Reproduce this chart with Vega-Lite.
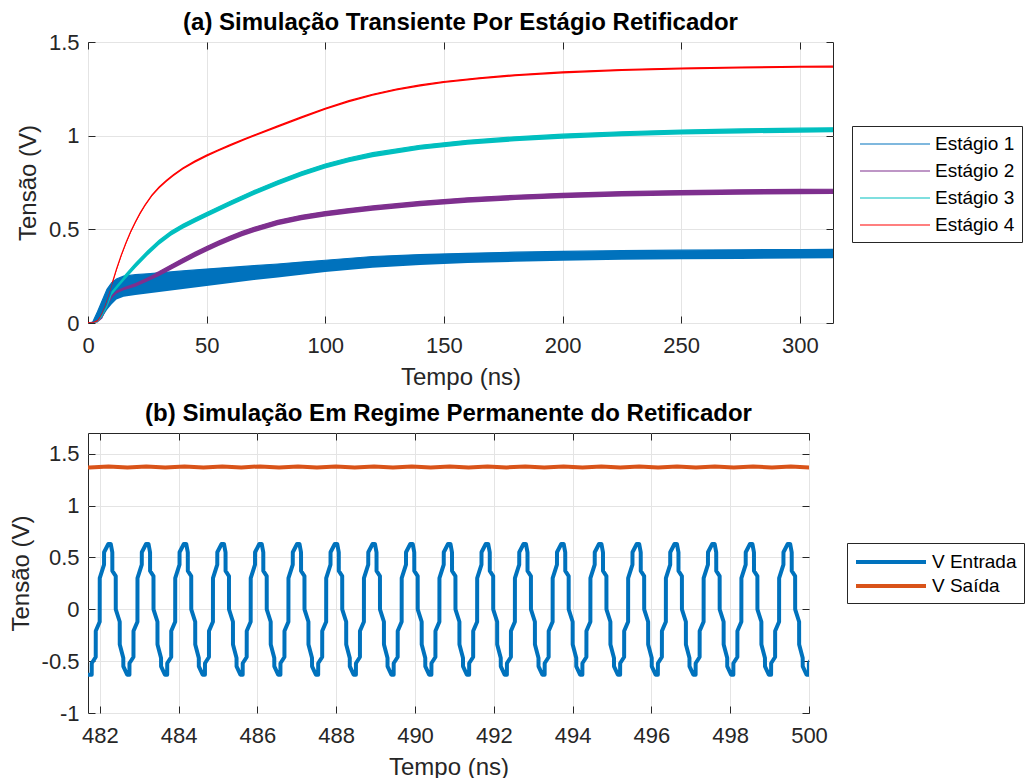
{
"$schema": "https://vega.github.io/schema/vega-lite/v6.json",
"background": "white",
"padding": {"left": 8, "top": 10, "right": 0, "bottom": 0},
"spacing": 11,
"config": {
 "font": "Liberation Sans",
 "view": {"stroke": "#262626", "strokeWidth": 1},
 "title": {"font": "Liberation Sans", "fontSize": 24, "fontWeight": "bold", "color": "#000000", "anchor": "middle", "offset": 7},
 "axis": {"labelFont": "Liberation Sans", "labelFontSize": 22, "labelColor": "#262626", "titleFont": "Liberation Sans", "titleFontSize": 24, "titleFontWeight": "normal", "titleColor": "#262626", "grid": true, "gridColor": "#E4E4E4", "domain": false, "ticks": true, "tickSize": -7, "tickColor": "#262626", "tickWidth": 1, "labelFlush": false},
 "axisX": {"labelPadding": 19, "titlePadding": 9},
 "axisY": {"labelPadding": 16, "titlePadding": 8},
 "legend": {"labelFont": "Liberation Sans", "labelFontSize": 19, "labelColor": "#000000", "symbolType": "M-1,0H6", "symbolSize": 400, "strokeColor": "#262626", "fillColor": "#ffffff", "padding": 7, "labelLimit": 300}
},
"resolve": {"scale": {"color": "independent", "fill": "independent"}, "legend": {"color": "independent"}},
"datasets": {
"stages": [
{"s":"Estágio 1","t":0,"lo":0,"hi":0},{"s":"Estágio 1","t":2,"lo":0,"hi":0.005},{"s":"Estágio 1","t":4,"lo":0.01,"hi":0.06},{"s":"Estágio 1","t":6,"lo":0.03,"hi":0.12},{"s":"Estágio 1","t":8,"lo":0.07,"hi":0.18},{"s":"Estágio 1","t":10,"lo":0.1,"hi":0.215},{"s":"Estágio 1","t":12,"lo":0.125,"hi":0.235},{"s":"Estágio 1","t":15,"lo":0.14,"hi":0.25},{"s":"Estágio 1","t":20,"lo":0.15,"hi":0.258},{"s":"Estágio 1","t":25,"lo":0.158,"hi":0.263},{"s":"Estágio 1","t":30,"lo":0.166,"hi":0.268},{"s":"Estágio 1","t":40,"lo":0.182,"hi":0.278},{"s":"Estágio 1","t":50,"lo":0.198,"hi":0.288},{"s":"Estágio 1","t":60,"lo":0.214,"hi":0.297},{"s":"Estágio 1","t":70,"lo":0.229,"hi":0.306},{"s":"Estágio 1","t":80,"lo":0.243,"hi":0.315},{"s":"Estágio 1","t":90,"lo":0.258,"hi":0.325},{"s":"Estágio 1","t":100,"lo":0.272,"hi":0.335},{"s":"Estágio 1","t":120,"lo":0.295,"hi":0.355},{"s":"Estágio 1","t":140,"lo":0.31,"hi":0.365},{"s":"Estágio 1","t":160,"lo":0.32,"hi":0.372},{"s":"Estágio 1","t":180,"lo":0.327,"hi":0.378},{"s":"Estágio 1","t":200,"lo":0.332,"hi":0.382},{"s":"Estágio 1","t":225,"lo":0.337,"hi":0.386},{"s":"Estágio 1","t":250,"lo":0.34,"hi":0.389},{"s":"Estágio 1","t":275,"lo":0.342,"hi":0.391},{"s":"Estágio 1","t":300,"lo":0.344,"hi":0.392},{"s":"Estágio 1","t":314,"lo":0.345,"hi":0.393},
{"s":"Estágio 2","t":0,"lo":0,"hi":0},{"s":"Estágio 2","t":2,"lo":0,"hi":0.002},{"s":"Estágio 2","t":4,"lo":0.003,"hi":0.013},{"s":"Estágio 2","t":6,"lo":0.024,"hi":0.036},{"s":"Estágio 2","t":8,"lo":0.084,"hi":0.096},{"s":"Estágio 2","t":10,"lo":0.132,"hi":0.148},{"s":"Estágio 2","t":12,"lo":0.157,"hi":0.173},{"s":"Estágio 2","t":15,"lo":0.175,"hi":0.191},{"s":"Estágio 2","t":20,"lo":0.193,"hi":0.213},{"s":"Estágio 2","t":25,"lo":0.221,"hi":0.243},{"s":"Estágio 2","t":30,"lo":0.251,"hi":0.275},{"s":"Estágio 2","t":35,"lo":0.284,"hi":0.31},{"s":"Estágio 2","t":40,"lo":0.318,"hi":0.344},{"s":"Estágio 2","t":45,"lo":0.351,"hi":0.377},{"s":"Estágio 2","t":50,"lo":0.382,"hi":0.408},{"s":"Estágio 2","t":55,"lo":0.411,"hi":0.437},{"s":"Estágio 2","t":60,"lo":0.438,"hi":0.464},{"s":"Estágio 2","t":65,"lo":0.463,"hi":0.489},{"s":"Estágio 2","t":70,"lo":0.485,"hi":0.511},{"s":"Estágio 2","t":80,"lo":0.522,"hi":0.548},{"s":"Estágio 2","t":90,"lo":0.549,"hi":0.575},{"s":"Estágio 2","t":100,"lo":0.569,"hi":0.595},{"s":"Estágio 2","t":110,"lo":0.585,"hi":0.611},{"s":"Estágio 2","t":120,"lo":0.599,"hi":0.625},{"s":"Estágio 2","t":140,"lo":0.623,"hi":0.649},{"s":"Estágio 2","t":160,"lo":0.642,"hi":0.668},{"s":"Estágio 2","t":180,"lo":0.656,"hi":0.682},{"s":"Estágio 2","t":200,"lo":0.666,"hi":0.692},{"s":"Estágio 2","t":225,"lo":0.675,"hi":0.701},{"s":"Estágio 2","t":250,"lo":0.681,"hi":0.707},{"s":"Estágio 2","t":275,"lo":0.685,"hi":0.711},{"s":"Estágio 2","t":300,"lo":0.687,"hi":0.713},{"s":"Estágio 2","t":314,"lo":0.688,"hi":0.714},
{"s":"Estágio 3","t":0,"lo":0,"hi":0},{"s":"Estágio 3","t":2,"lo":0,"hi":0.002},{"s":"Estágio 3","t":4,"lo":0.004,"hi":0.012},{"s":"Estágio 3","t":6,"lo":0.034,"hi":0.046},{"s":"Estágio 3","t":8,"lo":0.082,"hi":0.098},{"s":"Estágio 3","t":10,"lo":0.15,"hi":0.17},{"s":"Estágio 3","t":12,"lo":0.18,"hi":0.2},{"s":"Estágio 3","t":15,"lo":0.224,"hi":0.246},{"s":"Estágio 3","t":20,"lo":0.294,"hi":0.318},{"s":"Estágio 3","t":25,"lo":0.359,"hi":0.383},{"s":"Estágio 3","t":30,"lo":0.418,"hi":0.442},{"s":"Estágio 3","t":35,"lo":0.466,"hi":0.49},{"s":"Estágio 3","t":40,"lo":0.503,"hi":0.527},{"s":"Estágio 3","t":45,"lo":0.535,"hi":0.559},{"s":"Estágio 3","t":50,"lo":0.566,"hi":0.59},{"s":"Estágio 3","t":60,"lo":0.626,"hi":0.65},{"s":"Estágio 3","t":70,"lo":0.683,"hi":0.707},{"s":"Estágio 3","t":80,"lo":0.735,"hi":0.759},{"s":"Estágio 3","t":90,"lo":0.783,"hi":0.807},{"s":"Estágio 3","t":100,"lo":0.825,"hi":0.849},{"s":"Estágio 3","t":110,"lo":0.858,"hi":0.882},{"s":"Estágio 3","t":120,"lo":0.885,"hi":0.909},{"s":"Estágio 3","t":140,"lo":0.925,"hi":0.949},{"s":"Estágio 3","t":160,"lo":0.951,"hi":0.975},{"s":"Estágio 3","t":180,"lo":0.97,"hi":0.994},{"s":"Estágio 3","t":200,"lo":0.984,"hi":1.008},{"s":"Estágio 3","t":225,"lo":0.997,"hi":1.021},{"s":"Estágio 3","t":250,"lo":1.006,"hi":1.03},{"s":"Estágio 3","t":275,"lo":1.012,"hi":1.036},{"s":"Estágio 3","t":300,"lo":1.016,"hi":1.04},{"s":"Estágio 3","t":314,"lo":1.018,"hi":1.042},
{"s":"Estágio 4","t":0,"lo":0,"hi":0.002},{"s":"Estágio 4","t":2,"lo":0,"hi":0.004},{"s":"Estágio 4","t":4,"lo":0.008,"hi":0.016},{"s":"Estágio 4","t":5,"lo":0.026,"hi":0.034},{"s":"Estágio 4","t":6,"lo":0.051,"hi":0.059},{"s":"Estágio 4","t":7,"lo":0.083,"hi":0.091},{"s":"Estágio 4","t":8,"lo":0.118,"hi":0.126},{"s":"Estágio 4","t":9,"lo":0.156,"hi":0.164},{"s":"Estágio 4","t":10,"lo":0.196,"hi":0.204},{"s":"Estágio 4","t":12,"lo":0.279,"hi":0.287},{"s":"Estágio 4","t":14,"lo":0.354,"hi":0.362},{"s":"Estágio 4","t":16,"lo":0.42,"hi":0.428},{"s":"Estágio 4","t":18,"lo":0.48,"hi":0.488},{"s":"Estágio 4","t":20,"lo":0.533,"hi":0.541},{"s":"Estágio 4","t":22,"lo":0.58,"hi":0.588},{"s":"Estágio 4","t":24,"lo":0.622,"hi":0.63},{"s":"Estágio 4","t":27,"lo":0.676,"hi":0.684},{"s":"Estágio 4","t":30,"lo":0.718,"hi":0.726},{"s":"Estágio 4","t":33,"lo":0.753,"hi":0.761},{"s":"Estágio 4","t":36,"lo":0.784,"hi":0.792},{"s":"Estágio 4","t":40,"lo":0.819,"hi":0.827},{"s":"Estágio 4","t":45,"lo":0.856,"hi":0.864},{"s":"Estágio 4","t":50,"lo":0.888,"hi":0.896},{"s":"Estágio 4","t":55,"lo":0.917,"hi":0.925},{"s":"Estágio 4","t":60,"lo":0.944,"hi":0.952},{"s":"Estágio 4","t":66,"lo":0.975,"hi":0.983},{"s":"Estágio 4","t":70,"lo":0.995,"hi":1.003},{"s":"Estágio 4","t":80,"lo":1.044,"hi":1.052},{"s":"Estágio 4","t":90,"lo":1.092,"hi":1.1},{"s":"Estágio 4","t":100,"lo":1.138,"hi":1.146},{"s":"Estágio 4","t":110,"lo":1.179,"hi":1.187},{"s":"Estágio 4","t":120,"lo":1.213,"hi":1.221},{"s":"Estágio 4","t":130,"lo":1.241,"hi":1.249},{"s":"Estágio 4","t":140,"lo":1.263,"hi":1.271},{"s":"Estágio 4","t":150,"lo":1.281,"hi":1.289},{"s":"Estágio 4","t":165,"lo":1.301,"hi":1.309},{"s":"Estágio 4","t":180,"lo":1.317,"hi":1.325},{"s":"Estágio 4","t":200,"lo":1.332,"hi":1.34},{"s":"Estágio 4","t":225,"lo":1.345,"hi":1.353},{"s":"Estágio 4","t":250,"lo":1.353,"hi":1.361},{"s":"Estágio 4","t":275,"lo":1.358,"hi":1.366},{"s":"Estágio 4","t":300,"lo":1.362,"hi":1.37},{"s":"Estágio 4","t":314,"lo":1.363,"hi":1.371}
],
"sig": [
{"s":"V Entrada","t":481.700,"v":-0.63},
{"s":"V Entrada","t":481.736,"v":-0.63},{"s":"V Entrada","t":481.794,"v":-0.63},{"s":"V Entrada","t":481.795,"v":-0.52},{"s":"V Entrada","t":481.896,"v":-0.46},{"s":"V Entrada","t":481.897,"v":-0.21},{"s":"V Entrada","t":481.997,"v":-0.12},{"s":"V Entrada","t":481.998,"v":0.30},{"s":"V Entrada","t":482.107,"v":0.43},{"s":"V Entrada","t":482.108,"v":0.55},{"s":"V Entrada","t":482.216,"v":0.63},{"s":"V Entrada","t":482.277,"v":0.63},{"s":"V Entrada","t":482.317,"v":0.55},{"s":"V Entrada","t":482.318,"v":0.37},{"s":"V Entrada","t":482.404,"v":0.32},{"s":"V Entrada","t":482.405,"v":0.00},{"s":"V Entrada","t":482.505,"v":-0.12},{"s":"V Entrada","t":482.506,"v":-0.34},{"s":"V Entrada","t":482.596,"v":-0.47},{"s":"V Entrada","t":482.597,"v":-0.55},
{"s":"V Entrada","t":482.694,"v":-0.63},{"s":"V Entrada","t":482.752,"v":-0.63},{"s":"V Entrada","t":482.753,"v":-0.52},{"s":"V Entrada","t":482.854,"v":-0.46},{"s":"V Entrada","t":482.855,"v":-0.21},{"s":"V Entrada","t":482.955,"v":-0.12},{"s":"V Entrada","t":482.956,"v":0.30},{"s":"V Entrada","t":483.065,"v":0.43},{"s":"V Entrada","t":483.066,"v":0.55},{"s":"V Entrada","t":483.174,"v":0.63},{"s":"V Entrada","t":483.235,"v":0.63},{"s":"V Entrada","t":483.275,"v":0.55},{"s":"V Entrada","t":483.276,"v":0.37},{"s":"V Entrada","t":483.362,"v":0.32},{"s":"V Entrada","t":483.363,"v":0.00},{"s":"V Entrada","t":483.463,"v":-0.12},{"s":"V Entrada","t":483.464,"v":-0.34},{"s":"V Entrada","t":483.554,"v":-0.47},{"s":"V Entrada","t":483.555,"v":-0.55},
{"s":"V Entrada","t":483.652,"v":-0.63},{"s":"V Entrada","t":483.710,"v":-0.63},{"s":"V Entrada","t":483.711,"v":-0.52},{"s":"V Entrada","t":483.812,"v":-0.46},{"s":"V Entrada","t":483.813,"v":-0.21},{"s":"V Entrada","t":483.913,"v":-0.12},{"s":"V Entrada","t":483.914,"v":0.30},{"s":"V Entrada","t":484.023,"v":0.43},{"s":"V Entrada","t":484.024,"v":0.55},{"s":"V Entrada","t":484.132,"v":0.63},{"s":"V Entrada","t":484.193,"v":0.63},{"s":"V Entrada","t":484.233,"v":0.55},{"s":"V Entrada","t":484.234,"v":0.37},{"s":"V Entrada","t":484.320,"v":0.32},{"s":"V Entrada","t":484.321,"v":0.00},{"s":"V Entrada","t":484.421,"v":-0.12},{"s":"V Entrada","t":484.422,"v":-0.34},{"s":"V Entrada","t":484.512,"v":-0.47},{"s":"V Entrada","t":484.513,"v":-0.55},
{"s":"V Entrada","t":484.610,"v":-0.63},{"s":"V Entrada","t":484.668,"v":-0.63},{"s":"V Entrada","t":484.669,"v":-0.52},{"s":"V Entrada","t":484.770,"v":-0.46},{"s":"V Entrada","t":484.771,"v":-0.21},{"s":"V Entrada","t":484.871,"v":-0.12},{"s":"V Entrada","t":484.872,"v":0.30},{"s":"V Entrada","t":484.981,"v":0.43},{"s":"V Entrada","t":484.982,"v":0.55},{"s":"V Entrada","t":485.090,"v":0.63},{"s":"V Entrada","t":485.151,"v":0.63},{"s":"V Entrada","t":485.191,"v":0.55},{"s":"V Entrada","t":485.192,"v":0.37},{"s":"V Entrada","t":485.278,"v":0.32},{"s":"V Entrada","t":485.279,"v":0.00},{"s":"V Entrada","t":485.379,"v":-0.12},{"s":"V Entrada","t":485.380,"v":-0.34},{"s":"V Entrada","t":485.470,"v":-0.47},{"s":"V Entrada","t":485.471,"v":-0.55},
{"s":"V Entrada","t":485.568,"v":-0.63},{"s":"V Entrada","t":485.626,"v":-0.63},{"s":"V Entrada","t":485.627,"v":-0.52},{"s":"V Entrada","t":485.728,"v":-0.46},{"s":"V Entrada","t":485.729,"v":-0.21},{"s":"V Entrada","t":485.829,"v":-0.12},{"s":"V Entrada","t":485.830,"v":0.30},{"s":"V Entrada","t":485.939,"v":0.43},{"s":"V Entrada","t":485.940,"v":0.55},{"s":"V Entrada","t":486.048,"v":0.63},{"s":"V Entrada","t":486.109,"v":0.63},{"s":"V Entrada","t":486.149,"v":0.55},{"s":"V Entrada","t":486.150,"v":0.37},{"s":"V Entrada","t":486.236,"v":0.32},{"s":"V Entrada","t":486.237,"v":0.00},{"s":"V Entrada","t":486.337,"v":-0.12},{"s":"V Entrada","t":486.338,"v":-0.34},{"s":"V Entrada","t":486.428,"v":-0.47},{"s":"V Entrada","t":486.429,"v":-0.55},
{"s":"V Entrada","t":486.526,"v":-0.63},{"s":"V Entrada","t":486.584,"v":-0.63},{"s":"V Entrada","t":486.585,"v":-0.52},{"s":"V Entrada","t":486.686,"v":-0.46},{"s":"V Entrada","t":486.687,"v":-0.21},{"s":"V Entrada","t":486.787,"v":-0.12},{"s":"V Entrada","t":486.788,"v":0.30},{"s":"V Entrada","t":486.897,"v":0.43},{"s":"V Entrada","t":486.898,"v":0.55},{"s":"V Entrada","t":487.006,"v":0.63},{"s":"V Entrada","t":487.067,"v":0.63},{"s":"V Entrada","t":487.107,"v":0.55},{"s":"V Entrada","t":487.108,"v":0.37},{"s":"V Entrada","t":487.194,"v":0.32},{"s":"V Entrada","t":487.195,"v":0.00},{"s":"V Entrada","t":487.295,"v":-0.12},{"s":"V Entrada","t":487.296,"v":-0.34},{"s":"V Entrada","t":487.386,"v":-0.47},{"s":"V Entrada","t":487.387,"v":-0.55},
{"s":"V Entrada","t":487.484,"v":-0.63},{"s":"V Entrada","t":487.542,"v":-0.63},{"s":"V Entrada","t":487.543,"v":-0.52},{"s":"V Entrada","t":487.644,"v":-0.46},{"s":"V Entrada","t":487.645,"v":-0.21},{"s":"V Entrada","t":487.745,"v":-0.12},{"s":"V Entrada","t":487.746,"v":0.30},{"s":"V Entrada","t":487.855,"v":0.43},{"s":"V Entrada","t":487.856,"v":0.55},{"s":"V Entrada","t":487.964,"v":0.63},{"s":"V Entrada","t":488.025,"v":0.63},{"s":"V Entrada","t":488.065,"v":0.55},{"s":"V Entrada","t":488.066,"v":0.37},{"s":"V Entrada","t":488.152,"v":0.32},{"s":"V Entrada","t":488.153,"v":0.00},{"s":"V Entrada","t":488.253,"v":-0.12},{"s":"V Entrada","t":488.254,"v":-0.34},{"s":"V Entrada","t":488.344,"v":-0.47},{"s":"V Entrada","t":488.345,"v":-0.55},
{"s":"V Entrada","t":488.442,"v":-0.63},{"s":"V Entrada","t":488.500,"v":-0.63},{"s":"V Entrada","t":488.501,"v":-0.52},{"s":"V Entrada","t":488.602,"v":-0.46},{"s":"V Entrada","t":488.603,"v":-0.21},{"s":"V Entrada","t":488.703,"v":-0.12},{"s":"V Entrada","t":488.704,"v":0.30},{"s":"V Entrada","t":488.813,"v":0.43},{"s":"V Entrada","t":488.814,"v":0.55},{"s":"V Entrada","t":488.922,"v":0.63},{"s":"V Entrada","t":488.983,"v":0.63},{"s":"V Entrada","t":489.023,"v":0.55},{"s":"V Entrada","t":489.024,"v":0.37},{"s":"V Entrada","t":489.110,"v":0.32},{"s":"V Entrada","t":489.111,"v":0.00},{"s":"V Entrada","t":489.211,"v":-0.12},{"s":"V Entrada","t":489.212,"v":-0.34},{"s":"V Entrada","t":489.302,"v":-0.47},{"s":"V Entrada","t":489.303,"v":-0.55},
{"s":"V Entrada","t":489.400,"v":-0.63},{"s":"V Entrada","t":489.458,"v":-0.63},{"s":"V Entrada","t":489.459,"v":-0.52},{"s":"V Entrada","t":489.560,"v":-0.46},{"s":"V Entrada","t":489.561,"v":-0.21},{"s":"V Entrada","t":489.661,"v":-0.12},{"s":"V Entrada","t":489.662,"v":0.30},{"s":"V Entrada","t":489.771,"v":0.43},{"s":"V Entrada","t":489.772,"v":0.55},{"s":"V Entrada","t":489.880,"v":0.63},{"s":"V Entrada","t":489.941,"v":0.63},{"s":"V Entrada","t":489.981,"v":0.55},{"s":"V Entrada","t":489.982,"v":0.37},{"s":"V Entrada","t":490.068,"v":0.32},{"s":"V Entrada","t":490.069,"v":0.00},{"s":"V Entrada","t":490.169,"v":-0.12},{"s":"V Entrada","t":490.170,"v":-0.34},{"s":"V Entrada","t":490.260,"v":-0.47},{"s":"V Entrada","t":490.261,"v":-0.55},
{"s":"V Entrada","t":490.358,"v":-0.63},{"s":"V Entrada","t":490.416,"v":-0.63},{"s":"V Entrada","t":490.417,"v":-0.52},{"s":"V Entrada","t":490.518,"v":-0.46},{"s":"V Entrada","t":490.519,"v":-0.21},{"s":"V Entrada","t":490.619,"v":-0.12},{"s":"V Entrada","t":490.620,"v":0.30},{"s":"V Entrada","t":490.729,"v":0.43},{"s":"V Entrada","t":490.730,"v":0.55},{"s":"V Entrada","t":490.838,"v":0.63},{"s":"V Entrada","t":490.899,"v":0.63},{"s":"V Entrada","t":490.939,"v":0.55},{"s":"V Entrada","t":490.940,"v":0.37},{"s":"V Entrada","t":491.026,"v":0.32},{"s":"V Entrada","t":491.027,"v":0.00},{"s":"V Entrada","t":491.127,"v":-0.12},{"s":"V Entrada","t":491.128,"v":-0.34},{"s":"V Entrada","t":491.218,"v":-0.47},{"s":"V Entrada","t":491.219,"v":-0.55},
{"s":"V Entrada","t":491.316,"v":-0.63},{"s":"V Entrada","t":491.374,"v":-0.63},{"s":"V Entrada","t":491.375,"v":-0.52},{"s":"V Entrada","t":491.476,"v":-0.46},{"s":"V Entrada","t":491.477,"v":-0.21},{"s":"V Entrada","t":491.577,"v":-0.12},{"s":"V Entrada","t":491.578,"v":0.30},{"s":"V Entrada","t":491.687,"v":0.43},{"s":"V Entrada","t":491.688,"v":0.55},{"s":"V Entrada","t":491.796,"v":0.63},{"s":"V Entrada","t":491.857,"v":0.63},{"s":"V Entrada","t":491.897,"v":0.55},{"s":"V Entrada","t":491.898,"v":0.37},{"s":"V Entrada","t":491.984,"v":0.32},{"s":"V Entrada","t":491.985,"v":0.00},{"s":"V Entrada","t":492.085,"v":-0.12},{"s":"V Entrada","t":492.086,"v":-0.34},{"s":"V Entrada","t":492.176,"v":-0.47},{"s":"V Entrada","t":492.177,"v":-0.55},
{"s":"V Entrada","t":492.274,"v":-0.63},{"s":"V Entrada","t":492.332,"v":-0.63},{"s":"V Entrada","t":492.333,"v":-0.52},{"s":"V Entrada","t":492.434,"v":-0.46},{"s":"V Entrada","t":492.435,"v":-0.21},{"s":"V Entrada","t":492.535,"v":-0.12},{"s":"V Entrada","t":492.536,"v":0.30},{"s":"V Entrada","t":492.645,"v":0.43},{"s":"V Entrada","t":492.646,"v":0.55},{"s":"V Entrada","t":492.754,"v":0.63},{"s":"V Entrada","t":492.815,"v":0.63},{"s":"V Entrada","t":492.855,"v":0.55},{"s":"V Entrada","t":492.856,"v":0.37},{"s":"V Entrada","t":492.942,"v":0.32},{"s":"V Entrada","t":492.943,"v":0.00},{"s":"V Entrada","t":493.043,"v":-0.12},{"s":"V Entrada","t":493.044,"v":-0.34},{"s":"V Entrada","t":493.134,"v":-0.47},{"s":"V Entrada","t":493.135,"v":-0.55},
{"s":"V Entrada","t":493.232,"v":-0.63},{"s":"V Entrada","t":493.290,"v":-0.63},{"s":"V Entrada","t":493.291,"v":-0.52},{"s":"V Entrada","t":493.392,"v":-0.46},{"s":"V Entrada","t":493.393,"v":-0.21},{"s":"V Entrada","t":493.493,"v":-0.12},{"s":"V Entrada","t":493.494,"v":0.30},{"s":"V Entrada","t":493.603,"v":0.43},{"s":"V Entrada","t":493.604,"v":0.55},{"s":"V Entrada","t":493.712,"v":0.63},{"s":"V Entrada","t":493.773,"v":0.63},{"s":"V Entrada","t":493.813,"v":0.55},{"s":"V Entrada","t":493.814,"v":0.37},{"s":"V Entrada","t":493.900,"v":0.32},{"s":"V Entrada","t":493.901,"v":0.00},{"s":"V Entrada","t":494.001,"v":-0.12},{"s":"V Entrada","t":494.002,"v":-0.34},{"s":"V Entrada","t":494.092,"v":-0.47},{"s":"V Entrada","t":494.093,"v":-0.55},
{"s":"V Entrada","t":494.190,"v":-0.63},{"s":"V Entrada","t":494.248,"v":-0.63},{"s":"V Entrada","t":494.249,"v":-0.52},{"s":"V Entrada","t":494.350,"v":-0.46},{"s":"V Entrada","t":494.351,"v":-0.21},{"s":"V Entrada","t":494.451,"v":-0.12},{"s":"V Entrada","t":494.452,"v":0.30},{"s":"V Entrada","t":494.561,"v":0.43},{"s":"V Entrada","t":494.562,"v":0.55},{"s":"V Entrada","t":494.670,"v":0.63},{"s":"V Entrada","t":494.731,"v":0.63},{"s":"V Entrada","t":494.771,"v":0.55},{"s":"V Entrada","t":494.772,"v":0.37},{"s":"V Entrada","t":494.858,"v":0.32},{"s":"V Entrada","t":494.859,"v":0.00},{"s":"V Entrada","t":494.959,"v":-0.12},{"s":"V Entrada","t":494.960,"v":-0.34},{"s":"V Entrada","t":495.050,"v":-0.47},{"s":"V Entrada","t":495.051,"v":-0.55},
{"s":"V Entrada","t":495.148,"v":-0.63},{"s":"V Entrada","t":495.206,"v":-0.63},{"s":"V Entrada","t":495.207,"v":-0.52},{"s":"V Entrada","t":495.308,"v":-0.46},{"s":"V Entrada","t":495.309,"v":-0.21},{"s":"V Entrada","t":495.409,"v":-0.12},{"s":"V Entrada","t":495.410,"v":0.30},{"s":"V Entrada","t":495.519,"v":0.43},{"s":"V Entrada","t":495.520,"v":0.55},{"s":"V Entrada","t":495.628,"v":0.63},{"s":"V Entrada","t":495.689,"v":0.63},{"s":"V Entrada","t":495.729,"v":0.55},{"s":"V Entrada","t":495.730,"v":0.37},{"s":"V Entrada","t":495.816,"v":0.32},{"s":"V Entrada","t":495.817,"v":0.00},{"s":"V Entrada","t":495.917,"v":-0.12},{"s":"V Entrada","t":495.918,"v":-0.34},{"s":"V Entrada","t":496.008,"v":-0.47},{"s":"V Entrada","t":496.009,"v":-0.55},
{"s":"V Entrada","t":496.106,"v":-0.63},{"s":"V Entrada","t":496.164,"v":-0.63},{"s":"V Entrada","t":496.165,"v":-0.52},{"s":"V Entrada","t":496.266,"v":-0.46},{"s":"V Entrada","t":496.267,"v":-0.21},{"s":"V Entrada","t":496.367,"v":-0.12},{"s":"V Entrada","t":496.368,"v":0.30},{"s":"V Entrada","t":496.477,"v":0.43},{"s":"V Entrada","t":496.478,"v":0.55},{"s":"V Entrada","t":496.586,"v":0.63},{"s":"V Entrada","t":496.647,"v":0.63},{"s":"V Entrada","t":496.687,"v":0.55},{"s":"V Entrada","t":496.688,"v":0.37},{"s":"V Entrada","t":496.774,"v":0.32},{"s":"V Entrada","t":496.775,"v":0.00},{"s":"V Entrada","t":496.875,"v":-0.12},{"s":"V Entrada","t":496.876,"v":-0.34},{"s":"V Entrada","t":496.966,"v":-0.47},{"s":"V Entrada","t":496.967,"v":-0.55},
{"s":"V Entrada","t":497.064,"v":-0.63},{"s":"V Entrada","t":497.122,"v":-0.63},{"s":"V Entrada","t":497.123,"v":-0.52},{"s":"V Entrada","t":497.224,"v":-0.46},{"s":"V Entrada","t":497.225,"v":-0.21},{"s":"V Entrada","t":497.325,"v":-0.12},{"s":"V Entrada","t":497.326,"v":0.30},{"s":"V Entrada","t":497.435,"v":0.43},{"s":"V Entrada","t":497.436,"v":0.55},{"s":"V Entrada","t":497.544,"v":0.63},{"s":"V Entrada","t":497.605,"v":0.63},{"s":"V Entrada","t":497.645,"v":0.55},{"s":"V Entrada","t":497.646,"v":0.37},{"s":"V Entrada","t":497.732,"v":0.32},{"s":"V Entrada","t":497.733,"v":0.00},{"s":"V Entrada","t":497.833,"v":-0.12},{"s":"V Entrada","t":497.834,"v":-0.34},{"s":"V Entrada","t":497.924,"v":-0.47},{"s":"V Entrada","t":497.925,"v":-0.55},
{"s":"V Entrada","t":498.022,"v":-0.63},{"s":"V Entrada","t":498.080,"v":-0.63},{"s":"V Entrada","t":498.081,"v":-0.52},{"s":"V Entrada","t":498.182,"v":-0.46},{"s":"V Entrada","t":498.183,"v":-0.21},{"s":"V Entrada","t":498.283,"v":-0.12},{"s":"V Entrada","t":498.284,"v":0.30},{"s":"V Entrada","t":498.393,"v":0.43},{"s":"V Entrada","t":498.394,"v":0.55},{"s":"V Entrada","t":498.502,"v":0.63},{"s":"V Entrada","t":498.563,"v":0.63},{"s":"V Entrada","t":498.603,"v":0.55},{"s":"V Entrada","t":498.604,"v":0.37},{"s":"V Entrada","t":498.690,"v":0.32},{"s":"V Entrada","t":498.691,"v":0.00},{"s":"V Entrada","t":498.791,"v":-0.12},{"s":"V Entrada","t":498.792,"v":-0.34},{"s":"V Entrada","t":498.882,"v":-0.47},{"s":"V Entrada","t":498.883,"v":-0.55},
{"s":"V Entrada","t":498.980,"v":-0.63},{"s":"V Entrada","t":499.038,"v":-0.63},{"s":"V Entrada","t":499.039,"v":-0.52},{"s":"V Entrada","t":499.140,"v":-0.46},{"s":"V Entrada","t":499.141,"v":-0.21},{"s":"V Entrada","t":499.241,"v":-0.12},{"s":"V Entrada","t":499.242,"v":0.30},{"s":"V Entrada","t":499.351,"v":0.43},{"s":"V Entrada","t":499.352,"v":0.55},{"s":"V Entrada","t":499.460,"v":0.63},{"s":"V Entrada","t":499.521,"v":0.63},{"s":"V Entrada","t":499.561,"v":0.55},{"s":"V Entrada","t":499.562,"v":0.37},{"s":"V Entrada","t":499.648,"v":0.32},{"s":"V Entrada","t":499.649,"v":0.00},{"s":"V Entrada","t":499.749,"v":-0.12},{"s":"V Entrada","t":499.750,"v":-0.34},{"s":"V Entrada","t":499.840,"v":-0.47},{"s":"V Entrada","t":499.841,"v":-0.55},
{"s":"V Entrada","t":499.938,"v":-0.63},{"s":"V Entrada","t":499.996,"v":-0.63},{"s":"V Entrada","t":499.997,"v":-0.52},{"s":"V Entrada","t":500.098,"v":-0.46},
{"s":"V Saída","t":481.70,"v":1.37},{"s":"V Saída","t":481.74,"v":1.368},{"s":"V Saída","t":482.22,"v":1.378},{"s":"V Saída","t":482.70,"v":1.368},{"s":"V Saída","t":483.18,"v":1.378},{"s":"V Saída","t":483.66,"v":1.368},{"s":"V Saída","t":484.15,"v":1.378},{"s":"V Saída","t":484.63,"v":1.368},{"s":"V Saída","t":485.11,"v":1.378},{"s":"V Saída","t":485.59,"v":1.368},{"s":"V Saída","t":486.07,"v":1.378},{"s":"V Saída","t":486.55,"v":1.368},{"s":"V Saída","t":487.03,"v":1.378},{"s":"V Saída","t":487.51,"v":1.368},{"s":"V Saída","t":487.99,"v":1.378},{"s":"V Saída","t":488.47,"v":1.368},{"s":"V Saída","t":488.96,"v":1.378},{"s":"V Saída","t":489.44,"v":1.368},{"s":"V Saída","t":489.92,"v":1.378},{"s":"V Saída","t":490.40,"v":1.368},{"s":"V Saída","t":490.88,"v":1.378},{"s":"V Saída","t":491.36,"v":1.368},{"s":"V Saída","t":491.84,"v":1.378},{"s":"V Saída","t":492.32,"v":1.368},{"s":"V Saída","t":492.80,"v":1.378},{"s":"V Saída","t":493.28,"v":1.368},{"s":"V Saída","t":493.77,"v":1.378},{"s":"V Saída","t":494.25,"v":1.368},{"s":"V Saída","t":494.73,"v":1.378},{"s":"V Saída","t":495.21,"v":1.368},{"s":"V Saída","t":495.69,"v":1.378},{"s":"V Saída","t":496.17,"v":1.368},{"s":"V Saída","t":496.65,"v":1.378},{"s":"V Saída","t":497.13,"v":1.368},{"s":"V Saída","t":497.61,"v":1.378},{"s":"V Saída","t":498.09,"v":1.368},{"s":"V Saída","t":498.58,"v":1.378},{"s":"V Saída","t":499.06,"v":1.368},{"s":"V Saída","t":499.54,"v":1.378},{"s":"V Saída","t":500.02,"v":1.368}
]
},
"vconcat": [
{
 "width": 745, "height": 281,
 "title": {"text": "(a) Simulação Transiente Por Estágio Retificador", "offset": -4},
 "resolve": {"axis": {"x": "independent", "y": "independent"}},
 "layer": [
  {
   "data": {"name": "stages"},
   "mark": {"type": "line", "strokeWidth": 1.2, "clip": true},
   "encoding": {
    "x": {"field": "t", "type": "quantitative", "scale": {"domain": [0, 314], "nice": false, "zero": false}, "axis": {"orient": "bottom", "title": "Tempo (ns)", "values": [0, 50, 100, 150, 200, 250, 300]}},
    "y": {"field": "hi", "type": "quantitative", "scale": {"domain": [0, 1.5], "nice": false}, "axis": {"orient": "left", "title": "Tensão (V)", "values": [0, 0.5, 1, 1.5], "labelExpr": "'' + datum.value"}},
    "color": {"field": "s", "type": "nominal", "scale": {"domain": ["Estágio 1", "Estágio 2", "Estágio 3", "Estágio 4"], "range": ["#0072BD", "#7E2F8E", "#00BFBF", "#FF0000"]}, "legend": {"title": null, "orient": "none", "legendX": 764, "legendY": 84, "rowPadding": 6, "labelOffset": 54, "symbolStrokeWidth": 1.2}}
   }
  },
  {
   "data": {"name": "stages"},
   "mark": {"type": "area", "clip": true, "opacity": 1},
   "encoding": {
    "x": {"field": "t", "type": "quantitative", "axis": null},
    "y": {"field": "lo", "type": "quantitative", "stack": null, "axis": null},
    "y2": {"field": "hi"},
    "fill": {"field": "s", "type": "nominal", "scale": {"domain": ["Estágio 1", "Estágio 2", "Estágio 3", "Estágio 4"], "range": ["#0072BD", "#7E2F8E", "#00BFBF", "#FF0000"]}, "legend": null}
   }
  },
  {
   "data": {"values": [{"t": 0, "hi": 0}]},
   "mark": {"type": "point", "opacity": 0},
   "encoding": {
    "x": {"field": "t", "type": "quantitative", "axis": {"orient": "top", "labels": false, "title": null, "grid": false, "values": [0, 50, 100, 150, 200, 250, 300]}},
    "y": {"field": "hi", "type": "quantitative", "axis": {"orient": "right", "labels": false, "title": null, "grid": false, "values": [0, 0.5, 1, 1.5]}}
   }
  }
 ]
},
{
 "width": 721, "height": 280,
 "title": {"text": "(b) Simulação Em Regime Permanente do Retificador"},
 "resolve": {"axis": {"x": "independent", "y": "independent"}},
 "layer": [
  {
   "data": {"name": "sig"},
   "mark": {"type": "line", "strokeWidth": 4, "clip": true, "strokeJoin": "round"},
   "encoding": {
    "x": {"field": "t", "type": "quantitative", "scale": {"domain": [481.7, 500], "nice": false, "zero": false}, "axis": {"orient": "bottom", "title": "Tempo (ns)", "values": [482, 484, 486, 488, 490, 492, 494, 496, 498, 500]}},
    "y": {"field": "v", "type": "quantitative", "scale": {"domain": [-1, 1.7], "nice": false, "zero": false}, "axis": {"orient": "left", "title": "Tensão (V)", "values": [-1, -0.5, 0, 0.5, 1, 1.5], "labelExpr": "'' + datum.value"}},
    "color": {"field": "s", "type": "nominal", "scale": {"domain": ["V Entrada", "V Saída"], "range": ["#0072BD", "#D95319"]}, "legend": {"title": null, "orient": "none", "legendX": 759, "legendY": 110, "rowPadding": 2, "labelOffset": 54, "symbolStrokeWidth": 4}}
   }
  },
  {
   "data": {"values": [{"t": 490, "v": 0}]},
   "mark": {"type": "point", "opacity": 0},
   "encoding": {
    "x": {"field": "t", "type": "quantitative", "axis": {"orient": "top", "labels": false, "title": null, "grid": false, "values": [482, 484, 486, 488, 490, 492, 494, 496, 498, 500]}},
    "y": {"field": "v", "type": "quantitative", "axis": {"orient": "right", "labels": false, "title": null, "grid": false, "values": [-1, -0.5, 0, 0.5, 1, 1.5]}}
   }
  }
 ]
}
]
}
